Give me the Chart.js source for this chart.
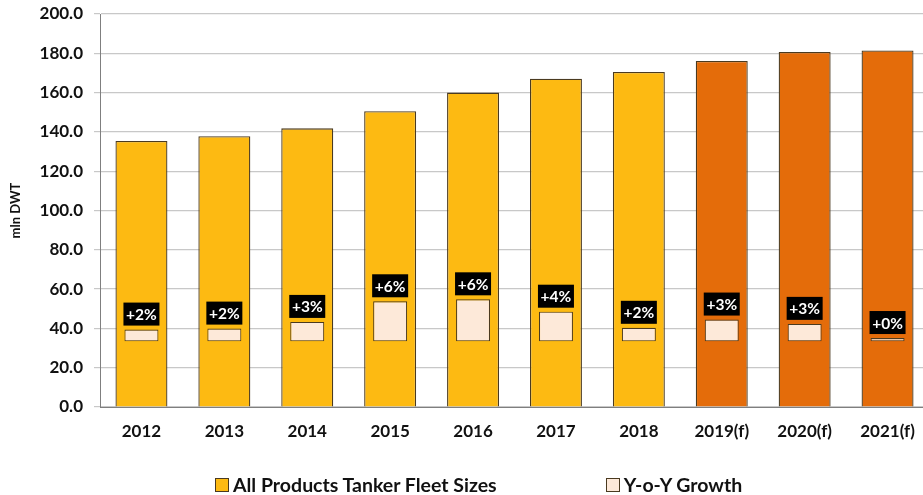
<!DOCTYPE html>
<html lang="en">

<head>
    <meta charset="UTF-8">
    <title>Products Tanker Fleet</title>
    <script src="https://cdn.jsdelivr.net/npm/chart.js"></script>
    <style>
        html, body {
            margin: 0;
            padding: 0;
            background: #ffffff;
            overflow: hidden;
            font-family: Lato, Arial, sans-serif;
        }

        #wrap {
            position: relative;
            width: 929px;
            /* a bit wider than the window: the last column is cut off like the original */
            height: 495px;
        }

        #legend {
            position: absolute;
            top: 473px;
            left: 215px;
            display: flex;
            font-weight: bold;
            font-size: 19.5px;
            color: #111;
        }

        #legend span.item {
            display: flex;
            align-items: center;
        }

        #legend span.box {
            display: inline-block;
            width: 12px;
            height: 12px;
            border: 1px solid #4a3a20;
            margin-right: 4px;
        }
    </style>
</head>

<body>
    <div id="wrap">
        <canvas id="fleetChart" width="929" height="495"></canvas>
        <div id="legend">
            <span class="item"><span class="box" style="background:#FDBA12"></span>All Products Tanker Fleet Sizes</span>
            <span class="item" style="margin-left:109px"><span class="box" style="background:#FDE9D9"></span>Y-o-Y Growth</span>
        </div>
    </div>

    <script>
        const years = ['2012', '2013', '2014', '2015', '2016', '2017', '2018', '2019(f)', '2020(f)', '2021(f)'];
        const fleetSize = [135.4, 137.8, 141.8, 150.5, 160.0, 167.1, 170.5, 176.1, 180.7, 181.4];
        const growthBase = 33.4;
        const growthTop = [39.4, 39.9, 43.3, 53.8, 54.8, 48.5, 40.3, 44.5, 42.3, 35.1];
        const growthText = ['+2%', '+2%', '+3%', '+6%', '+6%', '+4%', '+2%', '+3%', '+3%', '+0%'];
        const yTicks = [0, 20, 40, 60, 80, 100, 120, 140, 160, 180, 200];

        const yellow = '#FDBA12';
        const orange = '#E46C0A';
        const peach = '#FDE9D9';
        const edge = '#4a3a20';

        // black boxes with the growth % above the small bars
        const growthLabels = {
            id: 'growthLabels',
            afterDatasetsDraw(chart) {
                const ctx = chart.ctx;
                const meta = chart.getDatasetMeta(1);
                ctx.save();
                ctx.font = 'bold 15.5px Lato';
                ctx.textAlign = 'center';
                ctx.textBaseline = 'middle';
                meta.data.forEach((bar, i) => {
                    const w = 36, h = 23;
                    const x = bar.x - w / 2;
                    const y = bar.y - 4 - h;
                    ctx.fillStyle = '#000';
                    ctx.fillRect(x, y, w, h);
                    ctx.fillStyle = '#fff';
                    ctx.fillText(growthText[i], bar.x, y + h / 2 + 1);
                });
                ctx.restore();
            }
        };

        new Chart(document.getElementById('fleetChart'), {
            type: 'bar',
            data: {
                labels: years,
                datasets: [
                    {
                        label: 'All Products Tanker Fleet Sizes',
                        data: fleetSize,
                        backgroundColor: years.map(y => y.includes('(f)') ? orange : yellow),
                        borderColor: edge,
                        borderWidth: 1.3,
                        barPercentage: 0.627,
                        categoryPercentage: 1,
                        grouped: false,
                        order: 2
                    },
                    {
                        label: 'Y-o-Y Growth',
                        data: growthTop.map(v => [growthBase, v]),
                        backgroundColor: peach,
                        borderColor: edge,
                        borderWidth: 1.1,
                        borderSkipped: false,
                        barPercentage: 0.41,
                        categoryPercentage: 1,
                        grouped: false,
                        order: 1
                    }
                ]
            },
            options: {
                responsive: false,
                animation: false,
                layout: { padding: { top: 14, right: 0, left: 0, bottom: 0 } },
                plugins: {
                    legend: { display: false },
                    tooltip: { enabled: false }
                },
                scales: {
                    x: {
                        grid: { display: false },
                        border: { color: '#7f7f7f', width: 1 },
                        ticks: { color: '#111', font: { family: 'Lato', weight: 'bold', size: 17 }, padding: 6 },
                        afterFit: s => { s.height = 88; }
                    },
                    y: {
                        min: 0,
                        max: 200,
                        afterBuildTicks: s => { s.ticks = yTicks.map(v => ({ value: v })); },
                        grid: { color: '#c8c8c8', lineWidth: 1.2, tickLength: 6 },
                        border: { color: '#7f7f7f', width: 1 },
                        ticks: {
                            color: '#111',
                            font: { family: 'Lato', weight: 'bold', size: 17 },
                            padding: 11,
                            callback: v => v.toFixed(1)
                        },
                        title: {
                            display: true,
                            text: 'mln DWT',
                            color: '#111',
                            font: { family: 'Lato', weight: 'bold', size: 13 },
                            padding: { top: 8, bottom: 0 }
                        },
                        afterFit: s => { s.width = 100; s.paddingTop = 0; }
                    }
                }
            },
            plugins: [growthLabels]
        });
    </script>
</body>

</html>
